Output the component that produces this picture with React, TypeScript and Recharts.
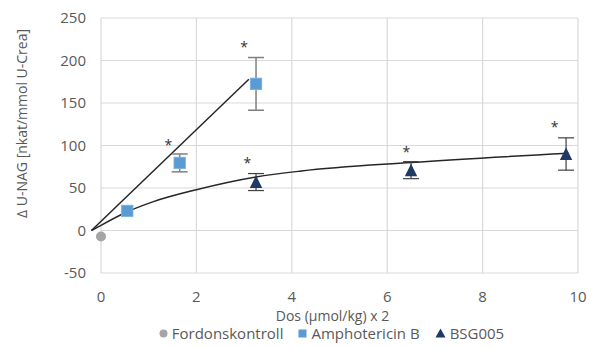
import React from 'react';
import {
  ComposedChart,
  XAxis,
  YAxis,
  CartesianGrid,
  Scatter,
  Line,
  ErrorBar,
  ReferenceLine,
  Legend,
} from 'recharts';

const FONT = '"Open Sans", sans-serif';
const TEXT = '#595959';

// Tick labels
const xTicks = [0, 2, 4, 6, 8, 10];
const yTicks = [-50, 0, 50, 100, 150, 200, 250];

// Series names
const seriesNames = ['Fordonskontroll', 'Amphotericin B', 'BSG005'];
const seriesColors = ['#A5A5A5', '#5B9BD5', '#203864'];

// Fordonskontroll
const ctrlX = [0];
const ctrlY = [-7];

// Amphotericin B
const amphoX = [0.55, 1.65, 3.25];
const amphoY = [23, 79.5, 172.5];
const amphoErr = [0, 10.5, 31];

// BSG005
const bsgX = [3.25, 6.5, 9.75];
const bsgY = [57, 71, 90];
const bsgErr = [10, 10, 19];

// Amphotericin B straight trend line
const amphoTrendX = [-0.2, 3.1];
const amphoTrendY = [0, 178];

// BSG005 saturating trend curve
const bsgCurveX = [-0.2, 0, 0.55, 1.1, 2, 3.25, 4.2, 6.5, 9.8];
const bsgCurveY = [0, 6, 22, 34, 48, 63, 70, 80, 91];

// Significance stars
const starX = [1.41, 3.0, 3.07, 6.4, 9.51];
const starY = [104, 219.6, 83, 96, 125.5];

const ctrlData = ctrlX.map((x, i) => ({ x, y: ctrlY[i] }));
const amphoData = amphoX.map((x, i) => ({ x, y: amphoY[i], err: amphoErr[i] }));
const bsgData = bsgX.map((x, i) => ({ x, y: bsgY[i], err: bsgErr[i] }));
const curveData = bsgCurveX.slice(1).map((x, i) => ({ x, y: bsgCurveY[i + 1] }));
const starData = starX.map((x, i) => ({ x, y: starY[i] }));

const CircleShape = (p: any) => <circle cx={p.cx} cy={p.cy} r={5} fill={seriesColors[0]} />;
const SquareShape = (p: any) => (
  <rect x={p.cx - 5.75} y={p.cy - 5.75} width={11.5} height={11.5} fill={seriesColors[1]} stroke="#7FB2E0" strokeWidth={0.8} />
);
const TriangleShape = (p: any) => (
  <polygon
    points={`${p.cx},${p.cy - 6.5} ${p.cx + 6.2},${p.cy + 6} ${p.cx - 6.2},${p.cy + 6}`}
    fill={seriesColors[2]}
  />
);
const StarShape = (p: any) => (
  <text x={p.cx} y={p.cy + 8} textAnchor="middle" fontSize={14} fontFamily={FONT} fill="#333333">
    *
  </text>
);

const legendMarker = (i: number) => {
  if (i === 0)
    return (
      <svg width={9} height={9} style={{ marginRight: 4 }}>
        <circle cx={4.5} cy={4.5} r={4} fill={seriesColors[0]} />
      </svg>
    );
  if (i === 1)
    return (
      <svg width={9} height={9} style={{ marginRight: 4 }}>
        <rect x={0.5} y={0.5} width={8} height={8} fill={seriesColors[1]} />
      </svg>
    );
  return (
    <svg width={11} height={10} style={{ marginRight: 4 }}>
      <polygon points="5.5,0.5 10.5,9.5 0.5,9.5" fill={seriesColors[2]} />
    </svg>
  );
};

const renderLegend = () => (
  <div
    style={{
      display: 'flex',
      justifyContent: 'center',
      alignItems: 'center',
      paddingLeft: 85,
      height: 16,
      lineHeight: '16px',
      fontSize: 15,
      color: TEXT,
      fontFamily: FONT,
    }}
  >
    {seriesNames.map((n, i) => (
      <div key={n} style={{ display: 'flex', alignItems: 'center', marginRight: i < 2 ? 15 : 0 }}>
        {legendMarker(i)}
        <span>{n}</span>
      </div>
    ))}
  </div>
);

const XLabel = (props: any) => {
  const vb = props.viewBox;
  return (
    <text
      x={vb.x + vb.width / 2 - 7}
      y={vb.y + 42}
      textAnchor="middle"
      dominantBaseline="central"
      fill={TEXT}
      fontSize={14}
      fontFamily={FONT}
    >
      Dos (µmol/kg) x 2
    </text>
  );
};

const YLabel = (props: any) => {
  const vb = props.viewBox;
  const x = vb.x + 21;
  const y = vb.y + vb.height / 2 - 22;
  return (
    <text
      x={x}
      y={y}
      transform={`rotate(-90, ${x}, ${y})`}
      textAnchor="middle"
      dominantBaseline="central"
      fill={TEXT}
      fontSize={14}
      fontFamily={FONT}
    >
      Δ U-NAG [nkat/mmol U-Crea]
    </text>
  );
};

export default function App() {
  return (
    <div style={{ position: 'absolute', left: 0, top: 0, width: 590, height: 348, background: '#fff', fontFamily: FONT }}>
      <ComposedChart width={590} height={348} margin={{ top: 18, right: 12, bottom: 7, left: 0 }}>
        <CartesianGrid stroke="#D9D9D9" strokeWidth={1.2} />
        <XAxis
          type="number"
          dataKey="x"
          domain={[0, 10]}
          ticks={xTicks}
          interval={0}
          axisLine={false}
          tickLine={false}
          tickSize={0}
          tickMargin={18}
          height={52}
          tick={{ fill: TEXT, fontSize: 15, fontFamily: FONT }}
          label={(p: any) => <XLabel {...p} />}
        />
        <YAxis
          type="number"
          dataKey="y"
          domain={[-50, 250]}
          ticks={yTicks}
          interval={0}
          axisLine={false}
          tickLine={false}
          tickSize={0}
          tickMargin={15}
          width={101}
          tick={{ fill: TEXT, fontSize: 15, fontFamily: FONT }}
          label={(p: any) => <YLabel {...p} />}
        />
        <Legend verticalAlign="bottom" content={renderLegend} />
        <ReferenceLine
          segment={[
            { x: amphoTrendX[0], y: amphoTrendY[0] },
            { x: amphoTrendX[1], y: amphoTrendY[1] },
          ]}
          ifOverflow="visible"
          stroke="#262626"
          strokeWidth={1.5}
        />
        <ReferenceLine
          segment={[
            { x: bsgCurveX[0], y: bsgCurveY[0] },
            { x: bsgCurveX[1], y: bsgCurveY[1] },
          ]}
          ifOverflow="visible"
          stroke="#262626"
          strokeWidth={1.5}
        />
        <Line
          data={curveData}
          dataKey="y"
          type="monotone"
          stroke="#262626"
          strokeWidth={1.5}
          dot={false}
          activeDot={false}
          legendType="none"
          isAnimationActive={false}
        />
        <Scatter name={seriesNames[0]} data={ctrlData} shape={CircleShape} isAnimationActive={false} />
        <Scatter name={seriesNames[1]} data={amphoData} shape={SquareShape} isAnimationActive={false}>
          <ErrorBar dataKey="err" direction="y" width={8} stroke="#7F7F7F" strokeWidth={1.5} />
        </Scatter>
        <Scatter name={seriesNames[2]} data={bsgData} shape={TriangleShape} isAnimationActive={false}>
          <ErrorBar dataKey="err" direction="y" width={8} stroke="#404040" strokeWidth={1.2} />
        </Scatter>
        <Scatter data={starData} shape={StarShape} legendType="none" isAnimationActive={false} />
      </ComposedChart>
    </div>
  );
}
